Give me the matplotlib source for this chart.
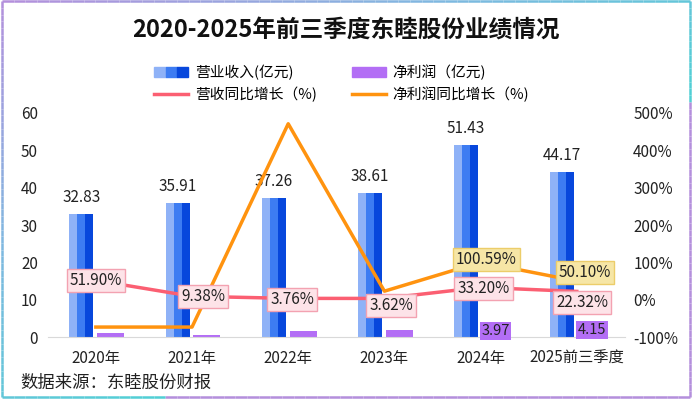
import numpy as np
import matplotlib.pyplot as plt
from matplotlib.patches import Patch
from matplotlib.lines import Line2D
from matplotlib.legend_handler import HandlerTuple
from matplotlib.collections import LineCollection
from matplotlib.colors import LinearSegmentedColormap

plt.rcParams['font.family'] = ['Noto Sans CJK SC', 'DejaVu Sans']

# 数据
years = ['2020年', '2021年', '2022年', '2023年', '2024年', '2025前三季度']
revenue = [32.83, 35.91, 37.26, 38.61, 51.43, 44.17]
net_profit = [1.0, 0.6, 1.6, 1.9, 3.97, 4.15]
rev_growth = [51.90, 9.38, 3.76, 3.62, 33.20, 22.32]
np_growth = [-73, -73, 471, 23, 100.59, 50.10]
np_growth_labels = ['', '', '', '', '100.59%', '50.10%']
profit_labels = ['', '', '', '', '3.97', '4.15']

fig = plt.figure(figsize=(6.92, 3.99), dpi=100)
ax = fig.add_axes([0.069, 0.155, 0.834, 0.562])
ax2 = ax.twinx()

x = np.arange(len(years))
bw = 0.25
shades = ['#8fb2f7', '#3d7cf2', '#0747dc']
for k, c in enumerate(shades):
    ax.bar(x - 0.15 - bw / 2 + bw / 6 + k * bw / 3, revenue, width=bw / 3, color=c, zorder=2)
ax.bar(x + 0.155, net_profit, width=0.28, color='#b36ef5', zorder=2)

for i, v in enumerate(revenue):
    ax.text(x[i] - 0.15, v + 2.2, f'{v:.2f}', ha='center', va='bottom', fontsize=11, color='#222222')
for i, s in enumerate(profit_labels):
    if s:
        ax.text(x[i] + 0.155, net_profit[i] - 0.4, s, ha='center', va='top', fontsize=10.5,
                color='#222222', bbox=dict(boxstyle='square,pad=0.12', fc='#b36ef5', ec='none'), zorder=5)

ax.set_xlim(-0.5, len(years) - 0.5)
ax.set_ylim(0, 60)
ax.set_yticks(range(0, 61, 10))
ax.set_xticks(x)
ax.set_xticklabels(years)
ax.tick_params(axis='both', length=0, labelsize=11, colors='#222222')
ax.tick_params(axis='x', pad=9)
ax.tick_params(axis='y', pad=7)
for sp in ['top', 'right', 'left']:
    ax.spines[sp].set_visible(False)
ax.spines['bottom'].set_color('#d9d9d9')

ax2.set_ylim(-100, 500)
ax2.set_yticks(range(-100, 501, 100))
ax2.set_yticklabels([f'{t}%' for t in range(-100, 501, 100)])
ax2.tick_params(axis='y', length=0, labelsize=11, colors='#222222', pad=6)
for sp in ax2.spines.values():
    sp.set_visible(False)

ax2.plot(x, rev_growth, color='#fb5f72', lw=2.5, zorder=3)
ax2.plot(x, np_growth, color='#ff930f', lw=2.5, zorder=3)

rg_offsets = [(0, 0), (8, 0), (3, -1), (5, -5), (2, -1), (4, -8)]
for i, v in enumerate(rev_growth):
    ax2.annotate(f'{v:.2f}%', (x[i], v), xytext=rg_offsets[i], textcoords='offset points',
                 ha='center', va='center', fontsize=11, color='#222222', zorder=6,
                 bbox=dict(boxstyle='square,pad=0.2', fc='#fde3e8', ec='#f3a2b1', lw=1))
np_offsets = [(0, 0), (0, 0), (0, 0), (0, 0), (4, 2), (6, 6)]
for i, s in enumerate(np_growth_labels):
    if s:
        ax2.annotate(s, (x[i], np_growth[i]), xytext=np_offsets[i], textcoords='offset points',
                     ha='center', va='center', fontsize=11, color='#222222', zorder=6,
                     bbox=dict(boxstyle='square,pad=0.2', fc='#f6e6a6', ec='#eccd6a', lw=1))

# 图例
rev_handle = (Patch(color=shades[0]), Patch(color=shades[1]), Patch(color=shades[2]))
handles = [rev_handle, Line2D([], [], color='#fb5f72', lw=2.5),
           Patch(color='#b36ef5'), Line2D([], [], color='#ff930f', lw=2.5)]
labels = ['营业收入(亿元)', '营收同比增长（%)', '净利润（亿元)', '净利润同比增长（%)']
fig.legend(handles, labels, ncol=2, loc='center', bbox_to_anchor=(0.494, 0.79), frameon=False,
           fontsize=10.6, handlelength=2.3, columnspacing=2.4, labelspacing=0.45, handletextpad=0.45,
           handler_map={tuple: HandlerTuple(ndivide=None, pad=0)})

fig.text(0.5, 0.925, '2020-2025年前三季度东睦股份业绩情况', ha='center', va='center',
         fontsize=17, fontweight='bold', color='#111111')
fig.text(0.03, 0.04, '数据来源：东睦股份财报', ha='left', va='center', fontsize=12.5, color='#222222')

# 渐变边框
cmap = LinearSegmentedColormap.from_list('edge', ['#b48fdc', '#7fb8e0', '#4fd0d4'])
corners = [(0.003, 0.997), (0.997, 0.997), (0.997, 0.004), (0.003, 0.004), (0.003, 0.997)]
segs, cols = [], []
for (x0, y0), (x1, y1) in zip(corners[:-1], corners[1:]):
    for t in np.linspace(0, 1, 60)[:-1]:
        xa, ya = x0 + (x1 - x0) * t, y0 + (y1 - y0) * t
        xb, yb = x0 + (x1 - x0) * (t + 1 / 59), y0 + (y1 - y0) * (t + 1 / 59)
        segs.append([(xa, ya), (xb, yb)])
        cols.append(cmap(min(1, (xa + (1 - ya)) * 0.8)))
fig.add_artist(LineCollection(segs, colors=cols, linewidths=1.8, transform=fig.transFigure))

fig.savefig('out.png', dpi=100)
